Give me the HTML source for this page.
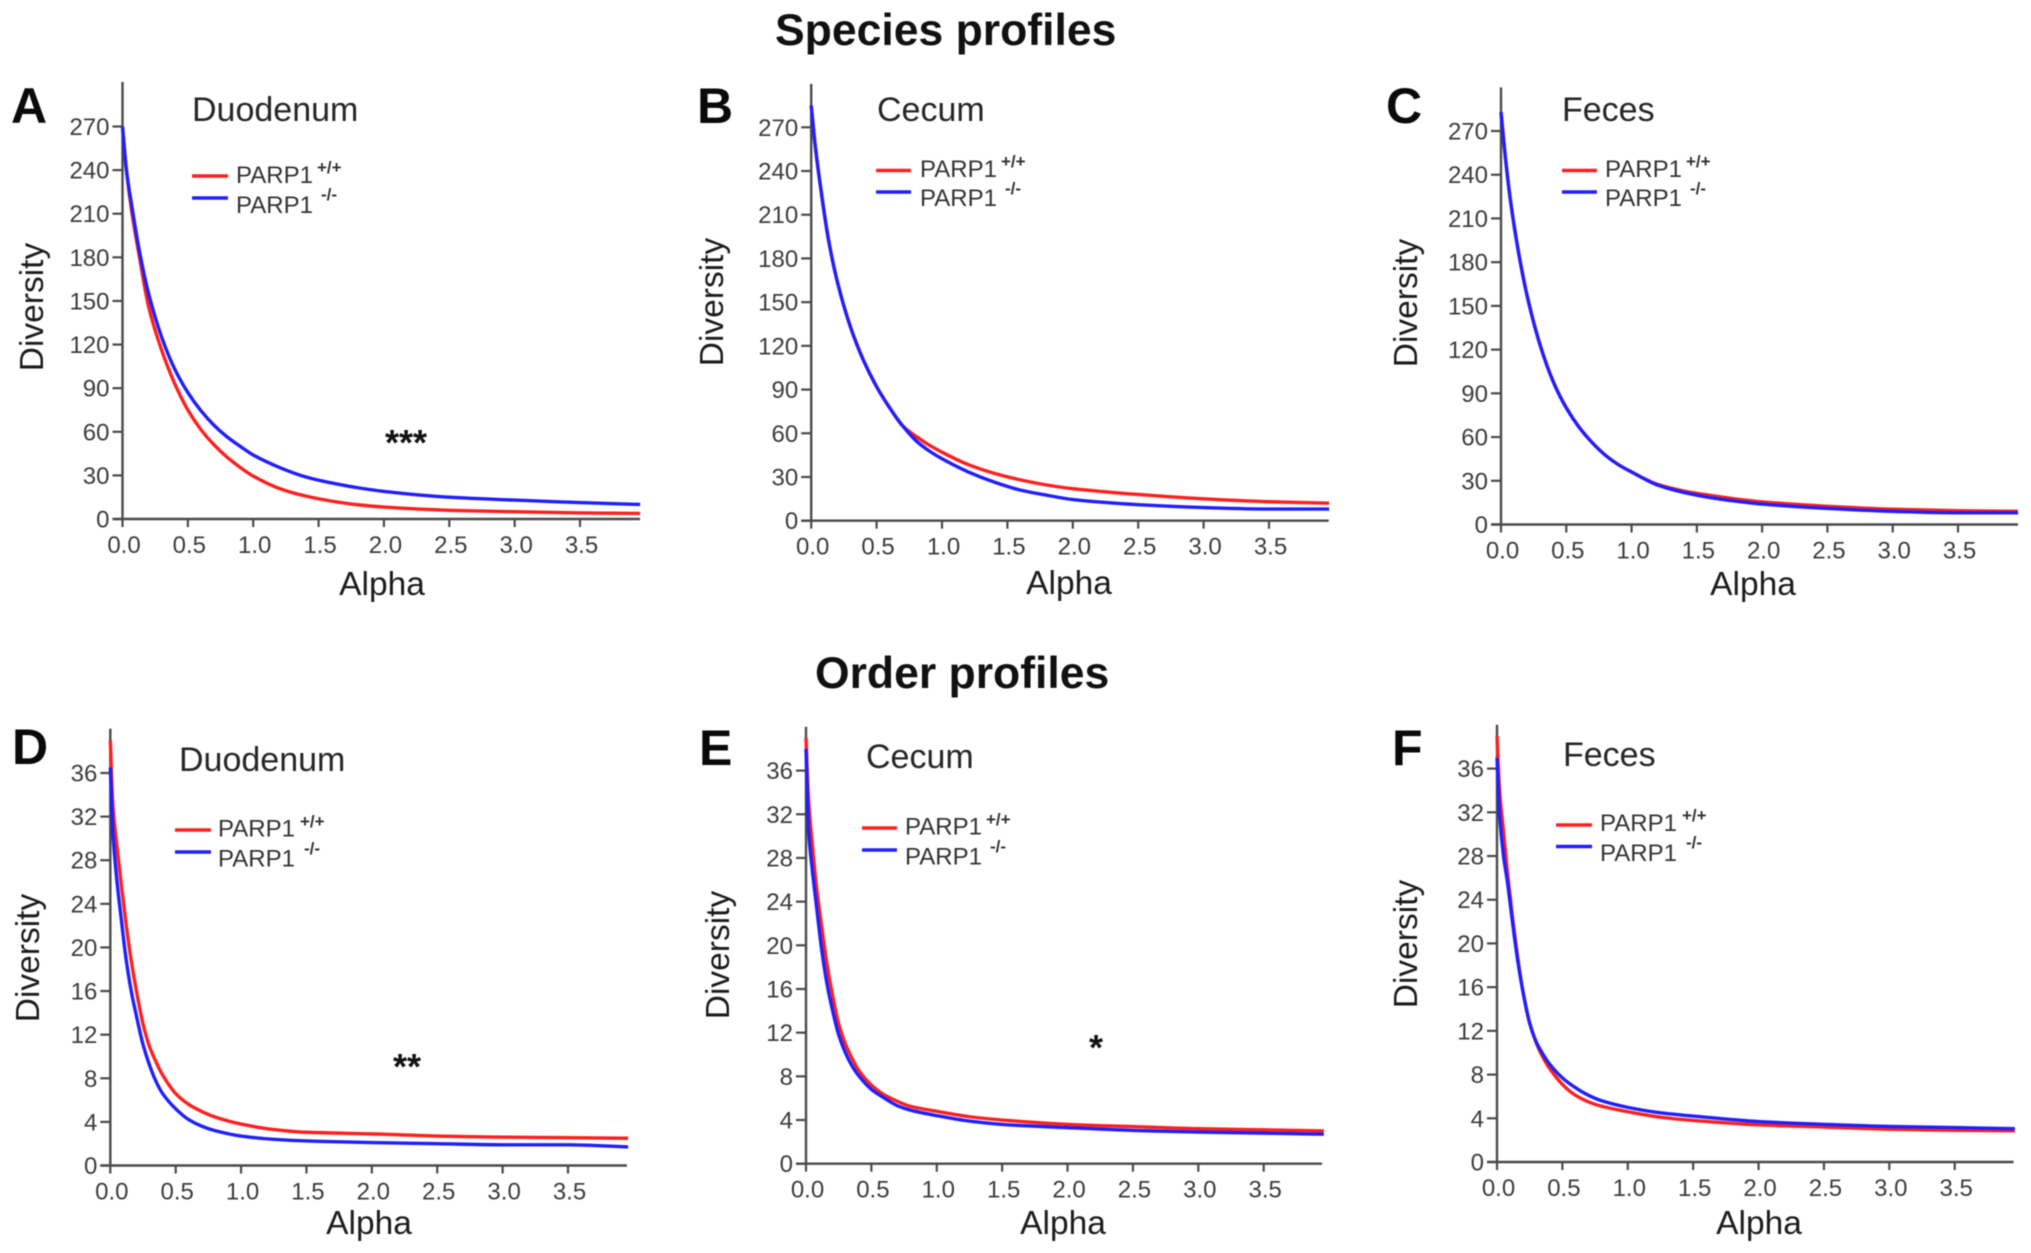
<!DOCTYPE html>
<html lang="en">
<head>
<meta charset="utf-8">
<title>Species and order diversity profiles</title>
<style>
html,body{margin:0;padding:0;background:#fff;width:2031px;height:1253px;overflow:hidden}
svg{display:block;filter:blur(0.6px)}
text{font-family:"Liberation Sans",sans-serif;fill:#262626}
.section{font-size:44.5px;font-weight:bold;fill:#111}
.letter{font-size:50px;font-weight:bold;fill:#0a0a0a}
.organ{font-size:34px}
.axis-title{font-size:33.5px;fill:#1c1c1c}
.leg{font-size:24px;fill:#333}
.sup{font-size:17px;font-weight:bold;fill:#333}
.stars{font-size:36px;fill:#111;text-anchor:middle;font-weight:bold}
.tick-label{font-size:24px;fill:#3c3c3c}
.rl{stroke:#ff1f1f;stroke-width:3.4;fill:none}
.bl{stroke:#1f1fff;stroke-width:3.4;fill:none}
</style>
</head>
<body>
<svg id="figure" xmlns="http://www.w3.org/2000/svg" width="2031" height="1253" viewBox="0 0 2031 1253">
  <rect width="2031" height="1253" fill="#fff"/>
  <text class="section" x="775" y="45">Species profiles</text>
  <text class="section" x="815" y="688">Order profiles</text>

  <g id="panel-a">
    <text class="letter" x="11" y="123">A</text>
    <text class="organ" x="192" y="121">Duodenum</text>
    <line class="rl" x1="192" y1="176" x2="228" y2="176"/>
    <line class="bl" x1="192" y1="198" x2="228" y2="198"/>
    <text class="leg" x="236" y="183">PARP1</text>
    <text class="sup" x="317" y="173">+/+</text>
    <text class="leg" x="236" y="213">PARP1</text>
    <text class="sup" x="321" y="200">-/-</text>
    <text class="stars" x="406" y="455">***</text>
    <text class="axis-title" x="382" y="595" text-anchor="middle">Alpha</text>
    <text class="axis-title" transform="translate(43,307) rotate(-90)" text-anchor="middle">Diversity</text>
  </g>

  <g id="panel-b">
    <text class="letter" x="697" y="123">B</text>
    <text class="organ" x="877" y="121">Cecum</text>
    <line class="rl" x1="876" y1="170.5" x2="911" y2="170.5"/>
    <line class="bl" x1="876" y1="192" x2="911" y2="192"/>
    <text class="leg" x="920" y="177">PARP1</text>
    <text class="sup" x="1001" y="167">+/+</text>
    <text class="leg" x="920" y="206">PARP1</text>
    <text class="sup" x="1005" y="194">-/-</text>
    <text class="axis-title" x="1069" y="594" text-anchor="middle">Alpha</text>
    <text class="axis-title" transform="translate(723,302) rotate(-90)" text-anchor="middle">Diversity</text>
  </g>

  <g id="panel-c">
    <text class="letter" x="1386" y="123">C</text>
    <text class="organ" x="1562" y="121">Feces</text>
    <line class="rl" x1="1562" y1="170.5" x2="1597" y2="170.5"/>
    <line class="bl" x1="1562" y1="192" x2="1597" y2="192"/>
    <text class="leg" x="1605" y="177">PARP1</text>
    <text class="sup" x="1686" y="167">+/+</text>
    <text class="leg" x="1605" y="206">PARP1</text>
    <text class="sup" x="1690" y="194">-/-</text>
    <text class="axis-title" x="1753" y="595" text-anchor="middle">Alpha</text>
    <text class="axis-title" transform="translate(1417,303) rotate(-90)" text-anchor="middle">Diversity</text>
  </g>

  <g id="panel-d">
    <text class="letter" x="12" y="764">D</text>
    <text class="organ" x="179" y="771">Duodenum</text>
    <line class="rl" x1="175" y1="830" x2="211" y2="830"/>
    <line class="bl" x1="175" y1="852" x2="211" y2="852"/>
    <text class="leg" x="218" y="836.5">PARP1</text>
    <text class="sup" x="300" y="827">+/+</text>
    <text class="leg" x="218" y="866.5">PARP1</text>
    <text class="sup" x="304" y="854">-/-</text>
    <text class="stars" x="407" y="1079">**</text>
    <text class="axis-title" x="369" y="1234" text-anchor="middle">Alpha</text>
    <text class="axis-title" transform="translate(39,958) rotate(-90)" text-anchor="middle">Diversity</text>
  </g>

  <g id="panel-e">
    <text class="letter" x="699" y="765">E</text>
    <text class="organ" x="866" y="768">Cecum</text>
    <line class="rl" x1="862" y1="828" x2="897" y2="828"/>
    <line class="bl" x1="862" y1="850" x2="897" y2="850"/>
    <text class="leg" x="905" y="834.5">PARP1</text>
    <text class="sup" x="986" y="825">+/+</text>
    <text class="leg" x="905" y="864.5">PARP1</text>
    <text class="sup" x="990" y="852">-/-</text>
    <text class="stars" x="1096" y="1060">*</text>
    <text class="axis-title" x="1063" y="1234" text-anchor="middle">Alpha</text>
    <text class="axis-title" transform="translate(729,955) rotate(-90)" text-anchor="middle">Diversity</text>
  </g>

  <g id="panel-f">
    <text class="letter" x="1392" y="765">F</text>
    <text class="organ" x="1563" y="766">Feces</text>
    <line class="rl" x1="1556" y1="825" x2="1592" y2="825"/>
    <line class="bl" x1="1556" y1="846.5" x2="1592" y2="846.5"/>
    <text class="leg" x="1600" y="831">PARP1</text>
    <text class="sup" x="1682" y="821">+/+</text>
    <text class="leg" x="1600" y="861">PARP1</text>
    <text class="sup" x="1686" y="848">-/-</text>
    <text class="axis-title" x="1759" y="1234" text-anchor="middle">Alpha</text>
    <text class="axis-title" transform="translate(1417,944) rotate(-90)" text-anchor="middle">Diversity</text>
  </g>
</svg>
<script>
// ---- Data ----
const xTickValues = [0, 0.5, 1, 1.5, 2, 2.5, 3, 3.5];
const xTickLabels = ['0.0', '0.5', '1.0', '1.5', '2.0', '2.5', '3.0', '3.5'];
const speciesYTicks = [0, 30, 60, 90, 120, 150, 180, 210, 240, 270];
const orderYTicks = [0, 4, 8, 12, 16, 20, 24, 28, 32, 36];

const speciesAlpha = [0, 0.03, 0.07, 0.13, 0.2, 0.3, 0.4, 0.5, 0.6, 0.7, 0.8, 0.9, 1, 1.2, 1.4, 1.6, 1.8, 2, 2.5, 3, 3.5, 3.96];
const orderAlpha = [0, 0.02, 0.05, 0.08, 0.12, 0.16, 0.2, 0.25, 0.3, 0.35, 0.4, 0.5, 0.6, 0.7, 0.8, 1, 1.25, 1.5, 2, 2.5, 3, 3.5, 3.96];

const panelAWildtype = [270, 240, 212, 180, 146, 116, 93, 75, 61.5, 51, 42.5, 35.5, 29.5, 21, 15.8, 12.3, 9.8, 8.2, 6, 5, 4.2, 3.8];
const panelAKnockout = [270, 240, 216, 184, 155, 125, 103, 87, 74.5, 64.5, 56.5, 50, 44, 35.5, 29, 24.8, 21.5, 19, 15, 13, 11.3, 10];
const panelBWildtype = [285, 258, 230, 194, 164, 133, 110, 92, 77.5, 65, 58, 52, 47, 38.5, 32.5, 28, 24.5, 22, 18, 15, 13, 12];
const panelBKnockout = [285, 258, 230, 194, 164, 133, 110, 92, 77.5, 65, 55, 48, 42.5, 33.5, 26.5, 21, 17.5, 14.5, 11, 9, 8, 8];
const panelCWildtype = [283, 255, 224, 189, 157, 123, 98, 80, 66.5, 56, 47.5, 41, 36, 27.5, 23, 20, 17.5, 15.5, 12.5, 10.5, 9.5, 9];
const panelCKnockout = [283, 255, 224, 189, 157, 123, 98, 80, 66.5, 56, 47.5, 41, 36, 27, 22, 18.5, 16, 14, 11, 9, 8, 8];
const panelDWildtype = [39, 33, 29.4, 26.2, 22.2, 18.8, 16, 13, 10.9, 9.5, 8.3, 6.6, 5.6, 4.95, 4.45, 3.8, 3.3, 3.05, 2.9, 2.7, 2.6, 2.55, 2.5];
const panelDKnockout = [36.5, 30.5, 26.2, 23, 19, 16, 13.7, 11.1, 9.2, 7.7, 6.6, 5.2, 4.2, 3.6, 3.2, 2.7, 2.4, 2.25, 2.1, 2, 1.9, 1.9, 1.7];
const panelEWildtype = [39, 33.3, 29, 25.4, 21.7, 18.3, 15.6, 12.8, 11, 9.7, 8.6, 7.2, 6.3, 5.7, 5.25, 4.8, 4.3, 4, 3.6, 3.4, 3.2, 3.1, 3];
const panelEKnockout = [38, 30.5, 26.7, 23.6, 19.6, 16.5, 14.2, 11.8, 10.2, 9, 8.1, 6.8, 6, 5.3, 4.9, 4.4, 3.9, 3.6, 3.3, 3.05, 2.9, 2.8, 2.7];
const panelFWildtype = [39, 34, 30.2, 26.5, 22.3, 18.6, 15.5, 12.7, 10.9, 9.6, 8.6, 7.1, 6.1, 5.5, 5.1, 4.6, 4.1, 3.8, 3.4, 3.2, 3, 2.9, 2.85];
const panelFKnockout = [37, 31.7, 28, 25.6, 21.8, 18.3, 15.5, 12.7, 11, 9.9, 9, 7.7, 6.8, 6.1, 5.6, 5, 4.5, 4.2, 3.7, 3.45, 3.25, 3.15, 3.05];

// ---- Layout of each plot frame (separate from the data) ----
const frames = [
  {id:'panel-a', x0:122.5, x35:580,    right:640,    y0:519,    yTopTick:126.5, top:81.9,  ticks:speciesYTicks, alpha:speciesAlpha, wt:panelAWildtype, ko:panelAKnockout},
  {id:'panel-b', x0:811.2, x35:1269,   right:1328.7, y0:520.7,  yTopTick:127.3, top:83.9,  ticks:speciesYTicks, alpha:speciesAlpha, wt:panelBWildtype, ko:panelBKnockout},
  {id:'panel-c', x0:1501,  x35:1958,   right:2018,   y0:524.5,  yTopTick:131,   top:87.4,  ticks:speciesYTicks, alpha:speciesAlpha, wt:panelCWildtype, ko:panelCKnockout},
  {id:'panel-d', x0:110.3, x35:568,    right:626.9,  y0:1165.5, yTopTick:773,   top:728.7, ticks:orderYTicks,   alpha:orderAlpha,   wt:panelDWildtype, ko:panelDKnockout},
  {id:'panel-e', x0:806,   x35:1263.7, right:1322,   y0:1163.7, yTopTick:770.6, top:726.7, ticks:orderYTicks,   alpha:orderAlpha,   wt:panelEWildtype, ko:panelEKnockout},
  {id:'panel-f', x0:1497,  x35:1954.7, right:2013.6, y0:1162,   yTopTick:768.6, top:724.7, ticks:orderYTicks,   alpha:orderAlpha,   wt:panelFWildtype, ko:panelFKnockout}
];

const SVGNS = 'http://www.w3.org/2000/svg';

function make(parent, tag, name, props) {
  const el = document.createElementNS(SVGNS, tag);
  
  
  for (const k in props) el.setAttribute(k, props[k]);
  parent.appendChild(el);
  return el;
}

// Monotone cubic path through the read-off points
function smoothPath(xs, ys) {
  const n = xs.length, d = [], m = [];
  for (let i = 0; i < n - 1; i++) d.push((ys[i + 1] - ys[i]) / (xs[i + 1] - xs[i]));
  m[0] = d[0];
  m[n - 1] = d[n - 2];
  for (let i = 1; i < n - 1; i++) {
    m[i] = d[i - 1] * d[i] <= 0 ? 0 : 2 * d[i - 1] * d[i] / (d[i - 1] + d[i]);
  }
  let s = 'M' + xs[0].toFixed(2) + ' ' + ys[0].toFixed(2);
  for (let i = 0; i < n - 1; i++) {
    const h = (xs[i + 1] - xs[i]) / 3;
    s += 'C' + (xs[i] + h).toFixed(2) + ' ' + (ys[i] + m[i] * h).toFixed(2) + ' ' +
         (xs[i + 1] - h).toFixed(2) + ' ' + (ys[i + 1] - m[i + 1] * h).toFixed(2) + ' ' +
         xs[i + 1].toFixed(2) + ' ' + ys[i + 1].toFixed(2);
  }
  return s;
}

frames.forEach(function (f) {
  const host = document.getElementById(f.id);
  const xScale = a => f.x0 + a * (f.x35 - f.x0) / xTickValues[xTickValues.length - 1];
  const topValue = f.ticks[f.ticks.length - 1];
  const yScale = v => f.y0 - v * (f.y0 - f.yTopTick) / topValue;
  const axisColor = '#4a4a4a';

  make(host, 'line', 'y-axis-line', {x1:f.x0, y1:f.top, x2:f.x0, y2:f.y0 + 1, stroke:axisColor, 'stroke-width':2.4});
  make(host, 'line', 'x-axis-line', {x1:f.x0 - 10, y1:f.y0, x2:f.right, y2:f.y0, stroke:axisColor, 'stroke-width':2.4});

  f.ticks.forEach(function (v) {
    make(host, 'line', 'y-tick-mark', {x1:f.x0 - 10, y1:yScale(v), x2:f.x0, y2:yScale(v), stroke:axisColor, 'stroke-width':2.2});
    const t = make(host, 'text', 'y-tick-label', {x:f.x0 - 13, y:yScale(v) + 8.5, 'text-anchor':'end', class:'tick-label'});
    t.textContent = String(v);
  });

  xTickValues.forEach(function (a, i) {
    make(host, 'line', 'x-tick-mark', {x1:xScale(a), y1:f.y0, x2:xScale(a), y2:f.y0 + 8, stroke:axisColor, 'stroke-width':2.2});
    const t = make(host, 'text', 'x-tick-label', {x:xScale(a) + 1.5, y:f.y0 + 34, 'text-anchor':'middle', class:'tick-label'});
    t.textContent = xTickLabels[i];
  });

  const xs = f.alpha.map(xScale);
  make(host, 'path', 'curve-parp1-wildtype', {d:smoothPath(xs, f.wt.map(yScale)), stroke:'#ff1f1f', 'stroke-width':3.4, fill:'none'});
  make(host, 'path', 'curve-parp1-knockout', {d:smoothPath(xs, f.ko.map(yScale)), stroke:'#1f1fff', 'stroke-width':3.4, fill:'none'});
});
</script>
</body>
</html>
